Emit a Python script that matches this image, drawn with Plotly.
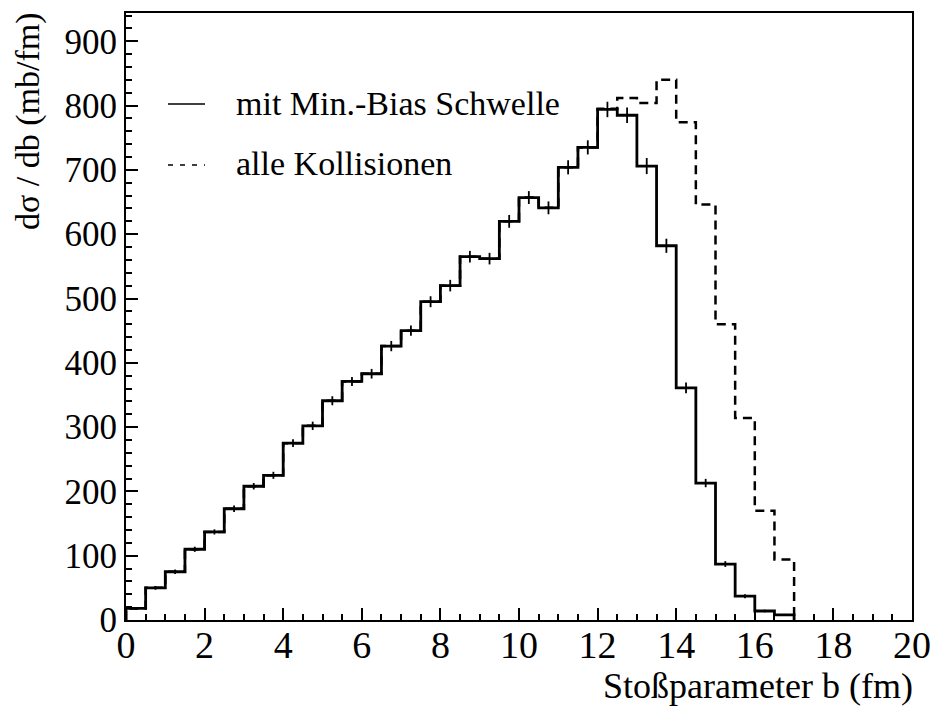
import plotly.graph_objects as go

# Impact-parameter bins (lower edges, fm), bin width 0.5 fm
bin_lo = [0.0, 0.5, 1.0, 1.5, 2.0, 2.5, 3.0, 3.5, 4.0, 4.5, 5.0, 5.5, 6.0, 6.5,
          7.0, 7.5, 8.0, 8.5, 9.0, 9.5, 10.0, 10.5, 11.0, 11.5, 12.0, 12.5,
          13.0, 13.5, 14.0, 14.5, 15.0, 15.5, 16.0, 16.5]
bin_width = 0.5

# dsigma/db with minimum-bias threshold (mb/fm)
minbias = [18, 50, 75, 110, 137, 173, 208, 225, 275, 302, 341, 371, 383, 426,
           450, 495, 520, 565, 562, 620, 657, 641, 704, 735, 794, 785,
           706, 582, 361, 213, 87, 37, 14, 8]
minbias_err = [2, 3, 3.5, 4, 4, 5, 5, 5.5, 6, 6.5, 7, 7, 7.5, 8,
               8, 8.5, 9, 9, 9, 10, 10, 10, 11, 11, 12, 12,
               12.5, 11, 8.5, 6.5, 4.5, 3, 2, 1.5]

# dsigma/db for all collisions (mb/fm)
alle = [18, 50, 75, 110, 137, 173, 208, 225, 275, 302, 341, 371, 383, 426,
        450, 495, 520, 565, 562, 620, 657, 641, 704, 735, 795, 812,
        804, 840, 774, 646, 460, 314, 170, 94]

x_range = [0, 20]
y_range = [0, 944]
x_ticks = [0, 2, 4, 6, 8, 10, 12, 14, 16, 18, 20]
y_ticks = [0, 100, 200, 300, 400, 500, 600, 700, 800, 900]

FONT = "Liberation Serif"

# plot-area geometry in pixels (used only to place legend / titles)
PL, PR, PT, PB = 126, 912, 13, 620


def px_x(px):
    return (px - PL) / (PR - PL)


def px_y(py):
    return 1 - (py - PT) / (PB - PT)


def step_outline(lo, vals, width):
    """Histogram outline: up from the axis, across each bin, back down."""
    xs = [lo[0]] + list(lo) + [lo[-1] + width, lo[-1] + width]
    ys = [0] + list(vals) + [vals[-1], 0]
    return xs, ys


fig = go.Figure()

xa, ya = step_outline(bin_lo, alle, bin_width)
fig.add_trace(go.Scatter(x=xa, y=ya, mode="lines", line_shape="hv",
                         line=dict(color="black", width=2.5, dash="9px,6px"),
                         showlegend=False, hoverinfo="skip"))

xm, ym = step_outline(bin_lo, minbias, bin_width)
fig.add_trace(go.Scatter(x=xm, y=ym, mode="lines", line_shape="hv",
                         line=dict(color="black", width=2.8),
                         showlegend=False, hoverinfo="skip"))

centers = [b + bin_width / 2 for b in bin_lo]
fig.add_trace(go.Scatter(x=centers, y=minbias, mode="markers",
                         marker=dict(size=1, color="black", opacity=0),
                         error_y=dict(type="data", array=minbias_err, visible=True,
                                      color="black", thickness=1.8, width=0),
                         showlegend=False, hoverinfo="skip"))

# Legend keys and labels
legend_rows = [("mit Min.-Bias Schwelle", "solid", 104),
               ("alle Kollisionen", "5px,7px", 165)]
for label, dash, ypix in legend_rows:
    fig.add_shape(type="line", xref="paper", yref="paper",
                  x0=px_x(168), x1=px_x(205), y0=px_y(ypix), y1=px_y(ypix),
                  line=dict(color="black", width=1.6, dash=dash))
    fig.add_annotation(xref="paper", yref="paper", x=px_x(234), y=px_y(ypix - 1),
                       text=label, showarrow=False, xanchor="left", yanchor="middle",
                       font=dict(family=FONT, size=34, color="black"))

# Axis titles
fig.add_annotation(xref="paper", yref="paper", x=px_x(914), y=px_y(707),
                   text="Stoßparameter b (fm)", showarrow=False,
                   xanchor="right", yanchor="bottom", borderpad=0,
                   font=dict(family=FONT, size=36, color="black"))
fig.add_annotation(xref="paper", yref="paper", x=px_x(28), y=px_y(10),
                   text="dσ / db (mb/fm)", showarrow=False, textangle=-90,
                   xanchor="center", yanchor="top",
                   font=dict(family=FONT, size=34, color="black"))

axis_common = dict(showgrid=False, zeroline=False, showline=True, mirror=True,
                   linecolor="black", linewidth=2, ticks="inside", ticklen=12,
                   tickwidth=1.6, tickcolor="black", automargin=False)

fig.update_xaxes(range=x_range, tickvals=x_ticks, **axis_common,
                 ticklabelstandoff=-10,
                 tickfont=dict(family=FONT, size=38, color="black"),
                 minor=dict(dtick=0.5, ticklen=6, tickwidth=1.6, tickcolor="black",
                            ticks="inside"))
fig.update_yaxes(range=y_range, tickvals=y_ticks, **axis_common,
                 tickfont=dict(family=FONT, size=35, color="black"),
                 minor=dict(dtick=20, ticklen=6, tickwidth=1.6, tickcolor="black",
                            ticks="inside"))

fig.update_layout(width=932, height=707, plot_bgcolor="white", paper_bgcolor="white",
                  font=dict(family=FONT, color="black"),
                  margin=dict(l=PL, r=932 - PR, t=PT, b=707 - PB), showlegend=False)

fig.write_html("out.html")
